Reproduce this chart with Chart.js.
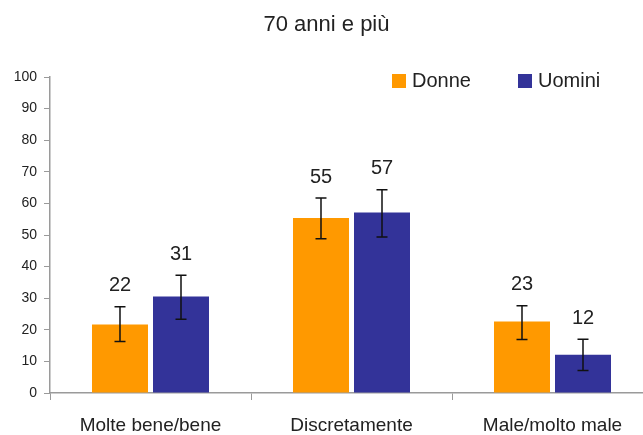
<!DOCTYPE html>
<html>
<head>
<meta charset="utf-8">
<script src="https://cdn.jsdelivr.net/npm/chart.js@4/dist/chart.umd.min.js"></script>
<style>
html,body{margin:0;padding:0;background:#fff;overflow:hidden;width:643px;height:435px;}
#wrap{position:absolute;left:-20px;top:0;width:715px;height:435px;}
</style>
</head>
<body>
<div id="wrap"><canvas id="chart" width="715" height="435"></canvas></div>
<script>
const categories = ["Molte bene/bene", "Discretamente", "Male/molto male"];
const seriesNames = ["Donne", "Uomini"];
const donne = [21.7, 55.4, 22.6];
const uomini = [30.5, 57.1, 12.1];
const donneLow = [16.3, 48.8, 16.9];
const donneHigh = [27.3, 61.7, 27.6];
const uominiLow = [23.3, 49.4, 7.1];
const uominiHigh = [37.3, 64.3, 17.0];
const yTicks = [0, 10, 20, 30, 40, 50, 60, 70, 80, 90, 100];

const FONT = "'Liberation Sans', Arial, Helvetica, sans-serif";
const TEXT = "#222222";
const AXIS = "#9a9a9a";

const errors = [
  {low: donneLow, high: donneHigh},
  {low: uominiLow, high: uominiHigh}
];

/* ---------------- error bars + value labels ---------------- */
const extras = {
  id: "extras",
  afterDatasetsDraw(chart) {
    const ctx = chart.ctx;
    const y = chart.scales.y;
    ctx.save();
    chart.data.datasets.forEach((ds, di) => {
      const meta = chart.getDatasetMeta(di);
      meta.data.forEach((bar, i) => {
        const yl = y.getPixelForValue(errors[di].low[i]);
        const yh = y.getPixelForValue(errors[di].high[i]);
        ctx.strokeStyle = "#111";
        ctx.lineWidth = 1.5;
        ctx.beginPath();
        ctx.moveTo(bar.x, yl); ctx.lineTo(bar.x, yh);
        ctx.moveTo(bar.x - 5.5, yl); ctx.lineTo(bar.x + 5.5, yl);
        ctx.moveTo(bar.x - 5.5, yh); ctx.lineTo(bar.x + 5.5, yh);
        ctx.stroke();

        ctx.fillStyle = TEXT;
        ctx.font = "20px " + FONT;
        ctx.textAlign = "center";
        ctx.textBaseline = "middle";
        ctx.fillText(String(Math.round(ds.data[i])), bar.x, yh - 21);
      });
    });
    ctx.restore();
  }
};

/* ---------------- legend inside plot ---------------- */
const legendIn = {
  id: "legendIn",
  afterDraw(chart) {
    const ctx = chart.ctx;
    const a = chart.chartArea;
    const xs = [a.left + 342, a.left + 468];
    const cy = a.top + 4;
    ctx.save();
    chart.data.datasets.forEach((ds, di) => {
      ctx.fillStyle = ds.backgroundColor;
      ctx.fillRect(xs[di], cy - 7, 14, 14);
      ctx.fillStyle = TEXT;
      ctx.font = "20px " + FONT;
      ctx.textAlign = "left";
      ctx.textBaseline = "middle";
      ctx.fillText(ds.label, xs[di] + 20, cy);
    });
    ctx.restore();
  }
};

new Chart(document.getElementById("chart"), {
  type: "bar",
  data: {
    labels: categories,
    datasets: [
      {label: seriesNames[0], data: donne, backgroundColor: "#ff9900"},
      {label: seriesNames[1], data: uomini, backgroundColor: "#333399"}
    ]
  },
  options: {
    responsive: false,
    animation: false,
    layout: {padding: {left: 20, right: 42, top: 0, bottom: 0}},
    datasets: {bar: {categoryPercentage: 0.607, barPercentage: 0.918}},
    plugins: {
      legend: {display: false},
      tooltip: {enabled: false},
      title: {
        display: true,
        text: "70 anni e più",
        color: TEXT,
        font: {family: FONT, size: 22, weight: "normal"},
        padding: {top: 12, bottom: 38.6}
      }
    },
    scales: {
      x: {
        afterFit(scale) { scale.height = 42; },
        grid: {display: true, offset: true, drawOnChartArea: false, tickLength: 7, color: AXIS, lineWidth: 1},
        border: {color: AXIS, width: 1.5},
        ticks: {color: TEXT, font: {family: FONT, size: 19}, padding: 14, maxRotation: 0}
      },
      y: {
        min: 0,
        max: 100,
        afterFit(scale) { scale.width = 50; },
        afterBuildTicks(scale) { scale.ticks = yTicks.map(v => ({value: v})); },
        grid: {display: true, drawOnChartArea: false, tickLength: 6, color: AXIS, lineWidth: 1},
        border: {color: AXIS, width: 1.5},
        ticks: {color: TEXT, font: {family: FONT, size: 14}, padding: 7}
      }
    }
  },
  plugins: [extras, legendIn]
});
</script>
</body>
</html>
